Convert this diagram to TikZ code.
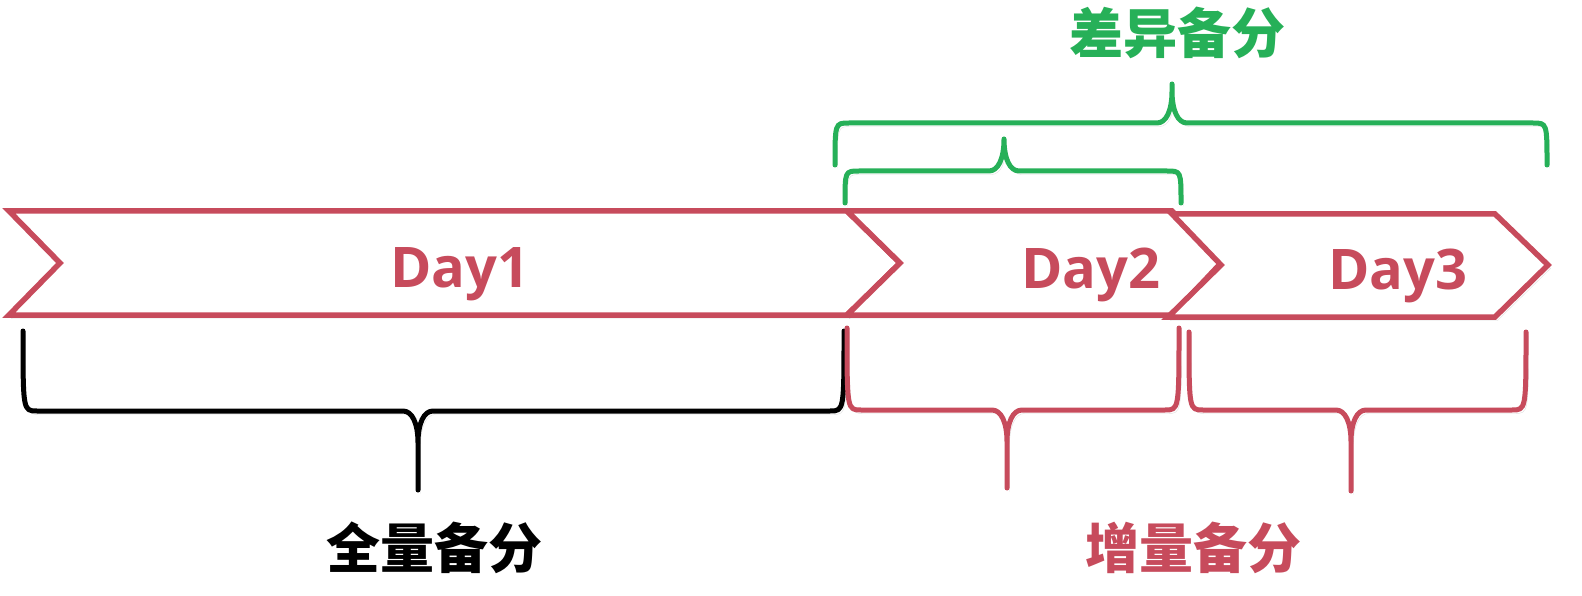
\documentclass[tikz,border=0pt]{standalone}
\usepackage{fontspec}
\newfontfamily\cjk{Noto Sans CJK SC}
\newfontfamily\dayfont{Open Sans}
\definecolor{dred}{RGB}{199,75,92}
\definecolor{dgreen}{RGB}{38,176,88}
\tikzset{
  shad/.style={preaction={draw=black,draw opacity=0.13,transform canvas={xshift=2.5pt,yshift=-3.5pt}}},
  chev/.style={draw=dred,line width=5.5pt,fill=white,line join=miter,shad},
  brc/.style={line width=5pt,line join=round,line cap=round,shad},
  daytxt/.style={font=\dayfont\bfseries\fontsize{56}{56}\selectfont,text=dred,anchor=base,inner sep=0pt},
  lbl/.style={font=\cjk\bfseries\fontsize{54}{54}\selectfont,inner sep=0pt}
}
\newcommand\mybrace[7]{%
  \pgfmathsetmacro\bs{(#5>#4)?1:-1}%
  \draw[brc,#1] (#2,#4) .. controls (#2,#5) and (#2,#5) .. (#2+14,#5)
    -- (#6-15,#5) .. controls (#6-6,#5) and (#6,#5+\bs*12) .. (#6,#5+\bs*32)
    -- (#6,#7) -- (#6,#5+\bs*32) .. controls (#6,#5+\bs*12) and (#6+6,#5) .. (#6+15,#5)
    -- (#3-14,#5) .. controls (#3,#5) and (#3,#5) .. (#3,#4);}
\begin{document}
\begin{tikzpicture}[x=1pt,y=-1pt]
\useasboundingbox[fill=white] (0,0) rectangle (1582,596);
% chevrons
\draw[chev] (9,211) -- (847,211) -- (900,263) -- (847,315) -- (9,315) -- (60,263) -- cycle;
\draw[chev] (847,211) -- (1172,211) -- (1221,263) -- (1172,315) -- (847,315) -- (900,263) -- cycle;
\draw[chev] (1172,214) -- (1495,214) -- (1548,265) -- (1495,317) -- (1168,317) -- (1221,265) -- cycle;
\node[daytxt] (d1) at (460,287) {Day1};
\node[daytxt] (d2) at (1091,288) {Day2};
\node[daytxt] (d3) at (1398,289) {Day3};
% braces
\mybrace{dgreen}{835}{1547}{165}{123}{1172}{84}
\mybrace{dgreen}{845}{1181}{203}{171}{1004}{142}
\mybrace{black}{23}{844}{331}{411}{418}{490}
\mybrace{dred}{847}{1179}{328}{410}{1007}{488}
\mybrace{dred}{1189}{1526}{332}{410}{1351}{491}
% labels
\node[lbl,text=dgreen] (diff) at (1177,33) {差异备分};
\node[lbl,text=black] (full) at (434,548) {全量备分};
\node[lbl,text=dred] (inc) at (1193,548) {增量备分};
\end{tikzpicture}
\end{document}
